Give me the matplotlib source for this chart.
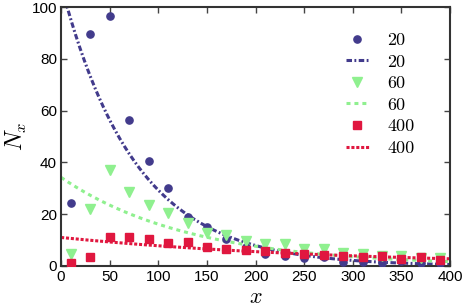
import numpy as np
import matplotlib
matplotlib.use("Agg")
import matplotlib.pyplot as plt

plt.rcParams['mathtext.fontset'] = 'cm'

x_pts = [10, 30, 50, 70, 90, 110, 130, 150, 170, 190, 210, 230, 250, 270, 290, 310, 330, 350, 370, 390]
n20 = [24.5, 89.5, 96.5, 56.5, 40.5, 30, 19, 15, 10.3, 7.5, 4.6, 3.9, 3.0, 3.4, 1.7, 1.7, 1.0, 2.0, 1.0, 1.0]
n60 = [4.6, 21.9, 37, 28.7, 23.5, 20.6, 16.7, 12.6, 12, 9.8, 8.5, 8.5, 6.6, 6.4, 4.9, 4.7, 3.9, 4.0, 3.0, 3.2]
n400 = [1.3, 3.3, 11, 11, 10.4, 8.8, 9.1, 7.2, 6.6, 6.2, 5.8, 5.1, 4.5, 4.4, 3.9, 3.4, 3.9, 2.6, 3.4, 2.3]

labels = ["20", "60", "400"]
fit_amp = [108.5, 34.2, 11.0]
fit_tau = [76.3, 133.0, 290.0]

colors = ["#423b8c", "#8ff08f", "#e0173f"]
markers = ["o", "v", "s"]
msizes = [5.2, 6.8, 5.2]
dashes = [(1.8, 0.8, 0.6, 0.8), (1.3, 1.3), (1.0, 0.6)]

fig = plt.figure(figsize=(4.63, 3.05), dpi=100)
ax = fig.add_axes([0.132, 0.128, 0.840, 0.849])

xf = np.linspace(0, 400, 400)
for vals, lab, A, tau, c, m, ms, d in zip([n20, n60, n400], labels, fit_amp, fit_tau,
                                          colors, markers, msizes, dashes):
    ax.plot(x_pts, vals, linestyle='none', marker=m, ms=ms, color=c, label=lab, zorder=3)
    ax.plot(xf, A * np.exp(-xf / tau), color=c, lw=2.2, dashes=d, label=lab, zorder=2)

ax.set_xlim(0, 400)
ax.set_ylim(0, 100)
ax.set_xticks(np.arange(0, 401, 50))
ax.set_yticks(np.arange(0, 101, 20))
ax.tick_params(direction='in', top=True, right=True, labelsize=11, length=4, width=1,
               color='#444444', pad=3)
for lab in ax.get_xticklabels() + ax.get_yticklabels():
    lab.set_fontfamily('Liberation Sans')
for s in ax.spines.values():
    s.set_linewidth(1.5)
    s.set_color('#333333')

ax.set_xlabel(r'$x$', fontsize=16)
ax.xaxis.label.set_va('center')
ax.xaxis.set_label_coords(0.5, -0.118)
ax.set_ylabel(r'$N_x$', fontsize=17, labelpad=2)

leg = ax.legend(loc='upper right', frameon=False, prop={'family': 'cmr10', 'size': 13},
                handlelength=1.3, handletextpad=1.0, labelspacing=0.33,
                bbox_to_anchor=(0.95, 0.965))

fig.savefig("out.png", dpi=100)
